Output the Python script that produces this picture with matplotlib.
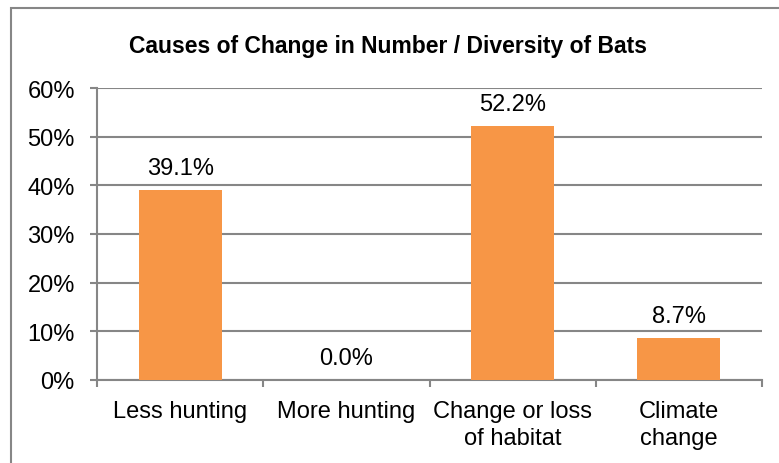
import matplotlib.pyplot as plt
from matplotlib.patches import Rectangle

categories = ['Less hunting', 'More hunting', 'Change or loss\nof habitat', 'Climate\nchange']
values = [39.1, 0.0, 52.2, 8.7]
yticks = [0, 10, 20, 30, 40, 50, 60]

plt.rcParams['font.family'] = ['Liberation Sans', 'DejaVu Sans']

fig = plt.figure(figsize=(7.79, 4.64), dpi=100)
ax = fig.add_axes([97 / 779, 1 - 381 / 464, (762 - 97) / 779, (381 - 89) / 464])

grey = '#868686'
x = range(len(categories))
ax.bar(x, values, width=0.5, color='#F79646', zorder=3)

for xi, v in zip(x, values):
    ax.text(xi, v + 3.3, f'{v:.1f}%', ha='center', va='baseline', fontsize=17)

ax.set_xlim(-0.5, len(categories) - 0.5)
ax.set_ylim(0, 60)
ax.set_yticks(yticks)
ax.set_yticklabels([f'{t}%' for t in yticks], fontsize=17)
ax.yaxis.grid(True, color=grey, linewidth=1.5, zorder=0)
ax.tick_params(axis='y', length=5, width=1.5, color=grey, pad=11)

# category labels between boundary ticks
ax.set_xticks([i - 0.5 for i in range(len(categories) + 1)])
ax.set_xticklabels([])
ax.tick_params(axis='x', length=5, width=1.5, color=grey, direction='out')
for xi, c in zip(x, categories):
    ax.text(xi, -4.2, c, ha='center', va='top', fontsize=17,
            linespacing=1.24, transform=ax.transData)

for side in ['top', 'right']:
    ax.spines[side].set_visible(False)
for side in ['left', 'bottom']:
    ax.spines[side].set_color(grey)
    ax.spines[side].set_linewidth(1.5)

fig.text(388 / 779, 1 - 46 / 464,
         'Causes of Change in Number / Diversity of Bats',
         ha='center', va='center', fontsize=16.5, fontweight='bold')

# outer chart border (clipped at right and bottom as in the reference)
fig.patches.append(Rectangle((11 / 779, -0.1), 1.2, 1 - 9 / 464 + 0.1,
                             transform=fig.transFigure, fill=False,
                             edgecolor=grey, linewidth=1.5))

fig.savefig('out.png', dpi=100)
